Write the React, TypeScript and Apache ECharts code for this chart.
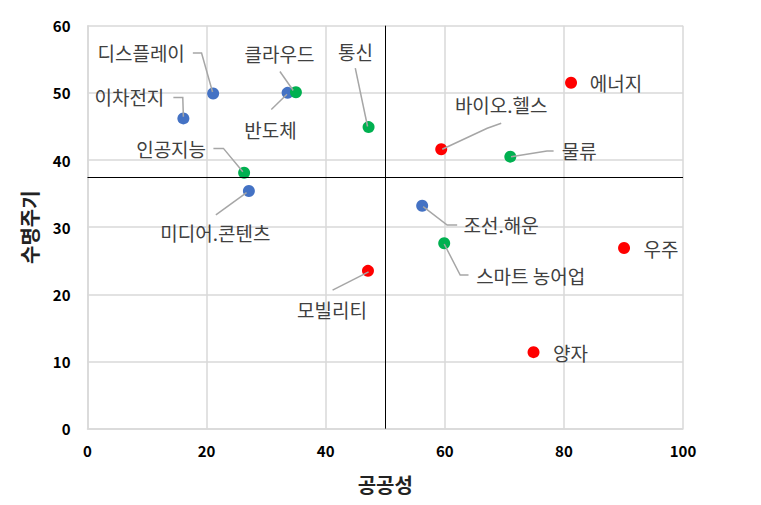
import React, { useEffect, useRef } from "react";
import * as echarts from "echarts";

// ---- data ----
const names = [
  "디스플레이", "이차전지", "클라우드", "반도체", "통신", "인공지능", "미디어.콘텐츠",
  "에너지", "바이오.헬스", "물류", "조선.해운", "스마트 농어업", "우주", "모빌리티", "양자",
];
const publicness = [21.1, 16.1, 35.0, 33.6, 47.2, 26.3, 27.1, 81.2, 59.4, 71.0, 56.2, 59.9, 90.1, 47.1, 74.9];
const lifecycle = [49.9, 46.2, 50.1, 50.0, 44.9, 38.1, 35.4, 51.5, 41.6, 40.5, 33.2, 27.6, 26.9, 23.5, 11.4];
const groups = [0, 0, 1, 0, 1, 1, 0, 2, 2, 1, 0, 1, 2, 2, 2];
const groupNames = ["A", "B", "C"];
const refX = 50;
const refY = 37.5;
const xTicks = { min: 0, max: 100, interval: 20 };
const yTicks = { min: 0, max: 60, interval: 10 };

// ---- styles: label centre offsets (px, relative to the point) ----
const labelOffset: Record<string, [number, number]> = {
  "디스플레이": [-72, -41],
  "이차전지": [-54, -22],
  "클라우드": [-16.5, -39],
  "반도체": [-17, 37],
  "통신": [-13, -76],
  "인공지능": [-73, -24],
  "미디어.콘텐츠": [-33.5, 42],
  "에너지": [45, 0],
  "바이오.헬스": [60, -45],
  "물류": [69, -6],
  "조선.해운": [79, 19],
  "스마트 농어업": [86.5, 32],
  "우주": [37, 0],
  "모빌리티": [-36, 39],
  "양자": [37, 0],
};
// leader-line vertices (px, relative to the point)
const leaderShape: Record<string, [number, number][]> = {
  "디스플레이": [[-20.3, -40.6], [-11.6, -40.6], [-0.6, -1.6]],
  "이차전지": [[-10, -21], [-0.6, -21], [0, -1.6]],
  "클라우드": [[-16, -20.7], [-2.7, -1.7]],
  "반도체": [[-16.3, 16.6], [-0.6, 1.3]],
  "통신": [[-13.3, -59], [-1, -0.6]],
  "인공지능": [[-30.7, -24.4], [-20.7, -24.4], [-1.3, -1]],
  "미디어.콘텐츠": [[-33, 24], [-2.3, 1.7]],
  "바이오.헬스": [[60, -26], [46, -21], [1, 0]],
  "물류": [[43.3, -5.7], [36.7, -5.7], [0.7, 0]],
  "조선.해운": [[1, 1], [25, 19.3], [35, 19.3]],
  "스마트 농어업": [[0, 0.7], [16, 31.7], [24.3, 31.7]],
  "모빌리티": [[0.6, 1], [-35.4, 19.3]],
};

const groupColors = ["#4472C4", "#00B050", "#FF0000"];
const FONT = "'Noto Sans CJK KR', 'Noto Sans', sans-serif";

export default function App() {
  const ref = useRef<HTMLDivElement>(null);

  useEffect(() => {
    if (!ref.current) return;
    const chart = echarts.init(ref.current, undefined, { renderer: "svg" });

    const series: any[] = groupNames.map((g, gi) => {
      const data = names
        .map((n, i) => ({ n, i }))
        .filter(({ i }) => groups[i] === gi)
        .map(({ n, i }) => ({ name: n, value: [publicness[i], lifecycle[i]] }));
      return {
        type: "scatter",
        name: g,
        data,
        symbolSize: 12,
        z: 2,
        itemStyle: { color: groupColors[gi], opacity: 1 },
        label: {
          show: true,
          formatter: "{b}",
          position: "right",
          fontSize: 19,
          color: "#404040",
          fontFamily: FONT,
        },
        labelLayout: (p: any) => {
          const o = labelOffset[p.text];
          if (!o) return {};
          return {
            x: p.rect.x + p.rect.width / 2 + o[0],
            y: p.rect.y + p.rect.height / 2 + o[1],
            align: "center",
            verticalAlign: "middle",
          };
        },
        markLine:
          gi === 0
            ? {
                silent: true,
                symbol: "none",
                animation: false,
                label: { show: false },
                lineStyle: { color: "#000", width: 1, type: "solid" },
                data: [{ xAxis: refX }, { yAxis: refY }],
              }
            : undefined,
      };
    });

    const leaderIdx = names.map((n, i) => i).filter((i) => leaderShape[names[i]]);
    series.push({
      type: "custom",
      name: "leaders",
      silent: true,
      z: 3,
      data: leaderIdx.map((i) => [publicness[i], lifecycle[i], i]),
      renderItem: (params: any, api: any) => {
        const c = api.coord([api.value(0), api.value(1)]);
        const shape = leaderShape[names[api.value(2)]];
        return {
          type: "polyline",
          shape: { points: shape.map(([dx, dy]) => [c[0] + dx, c[1] + dy]) },
          style: { stroke: "#A6A6A6", lineWidth: 1.5, fill: "none" },
        };
      },
    });

    const axisCommon = {
      type: "value" as const,
      nameLocation: "middle" as const,
      nameTextStyle: { fontSize: 20, fontWeight: "bold", color: "#222", fontFamily: FONT },
      axisLine: { show: true, lineStyle: { color: "#D9D9D9", width: 1.5 } },
      axisTick: { show: false },
      splitLine: { show: true, lineStyle: { color: "#D9D9D9", width: 1.5 } },
      axisLabel: { fontSize: 15, fontWeight: "bold", color: "#000", fontFamily: FONT },
    };

    chart.setOption({
      animation: false,
      grid: { left: 87.5, right: 78, top: 25.7, bottom: 76.3, containLabel: false },
      xAxis: {
        ...axisCommon,
        name: "공공성",
        nameGap: 46,
        min: xTicks.min,
        max: xTicks.max,
        interval: xTicks.interval,
        axisLabel: { ...axisCommon.axisLabel, margin: 14 },
      },
      yAxis: {
        ...axisCommon,
        name: "수명주기",
        nameGap: 48,
        min: yTicks.min,
        max: yTicks.max,
        interval: yTicks.interval,
        axisLabel: { ...axisCommon.axisLabel, margin: 17 },
      },
      series,
    });

    return () => chart.dispose();
  }, []);

  return (
    <div
      ref={ref}
      style={{ position: "fixed", left: 0, top: 0, width: 761, height: 505, background: "#fff" }}
    />
  );
}
